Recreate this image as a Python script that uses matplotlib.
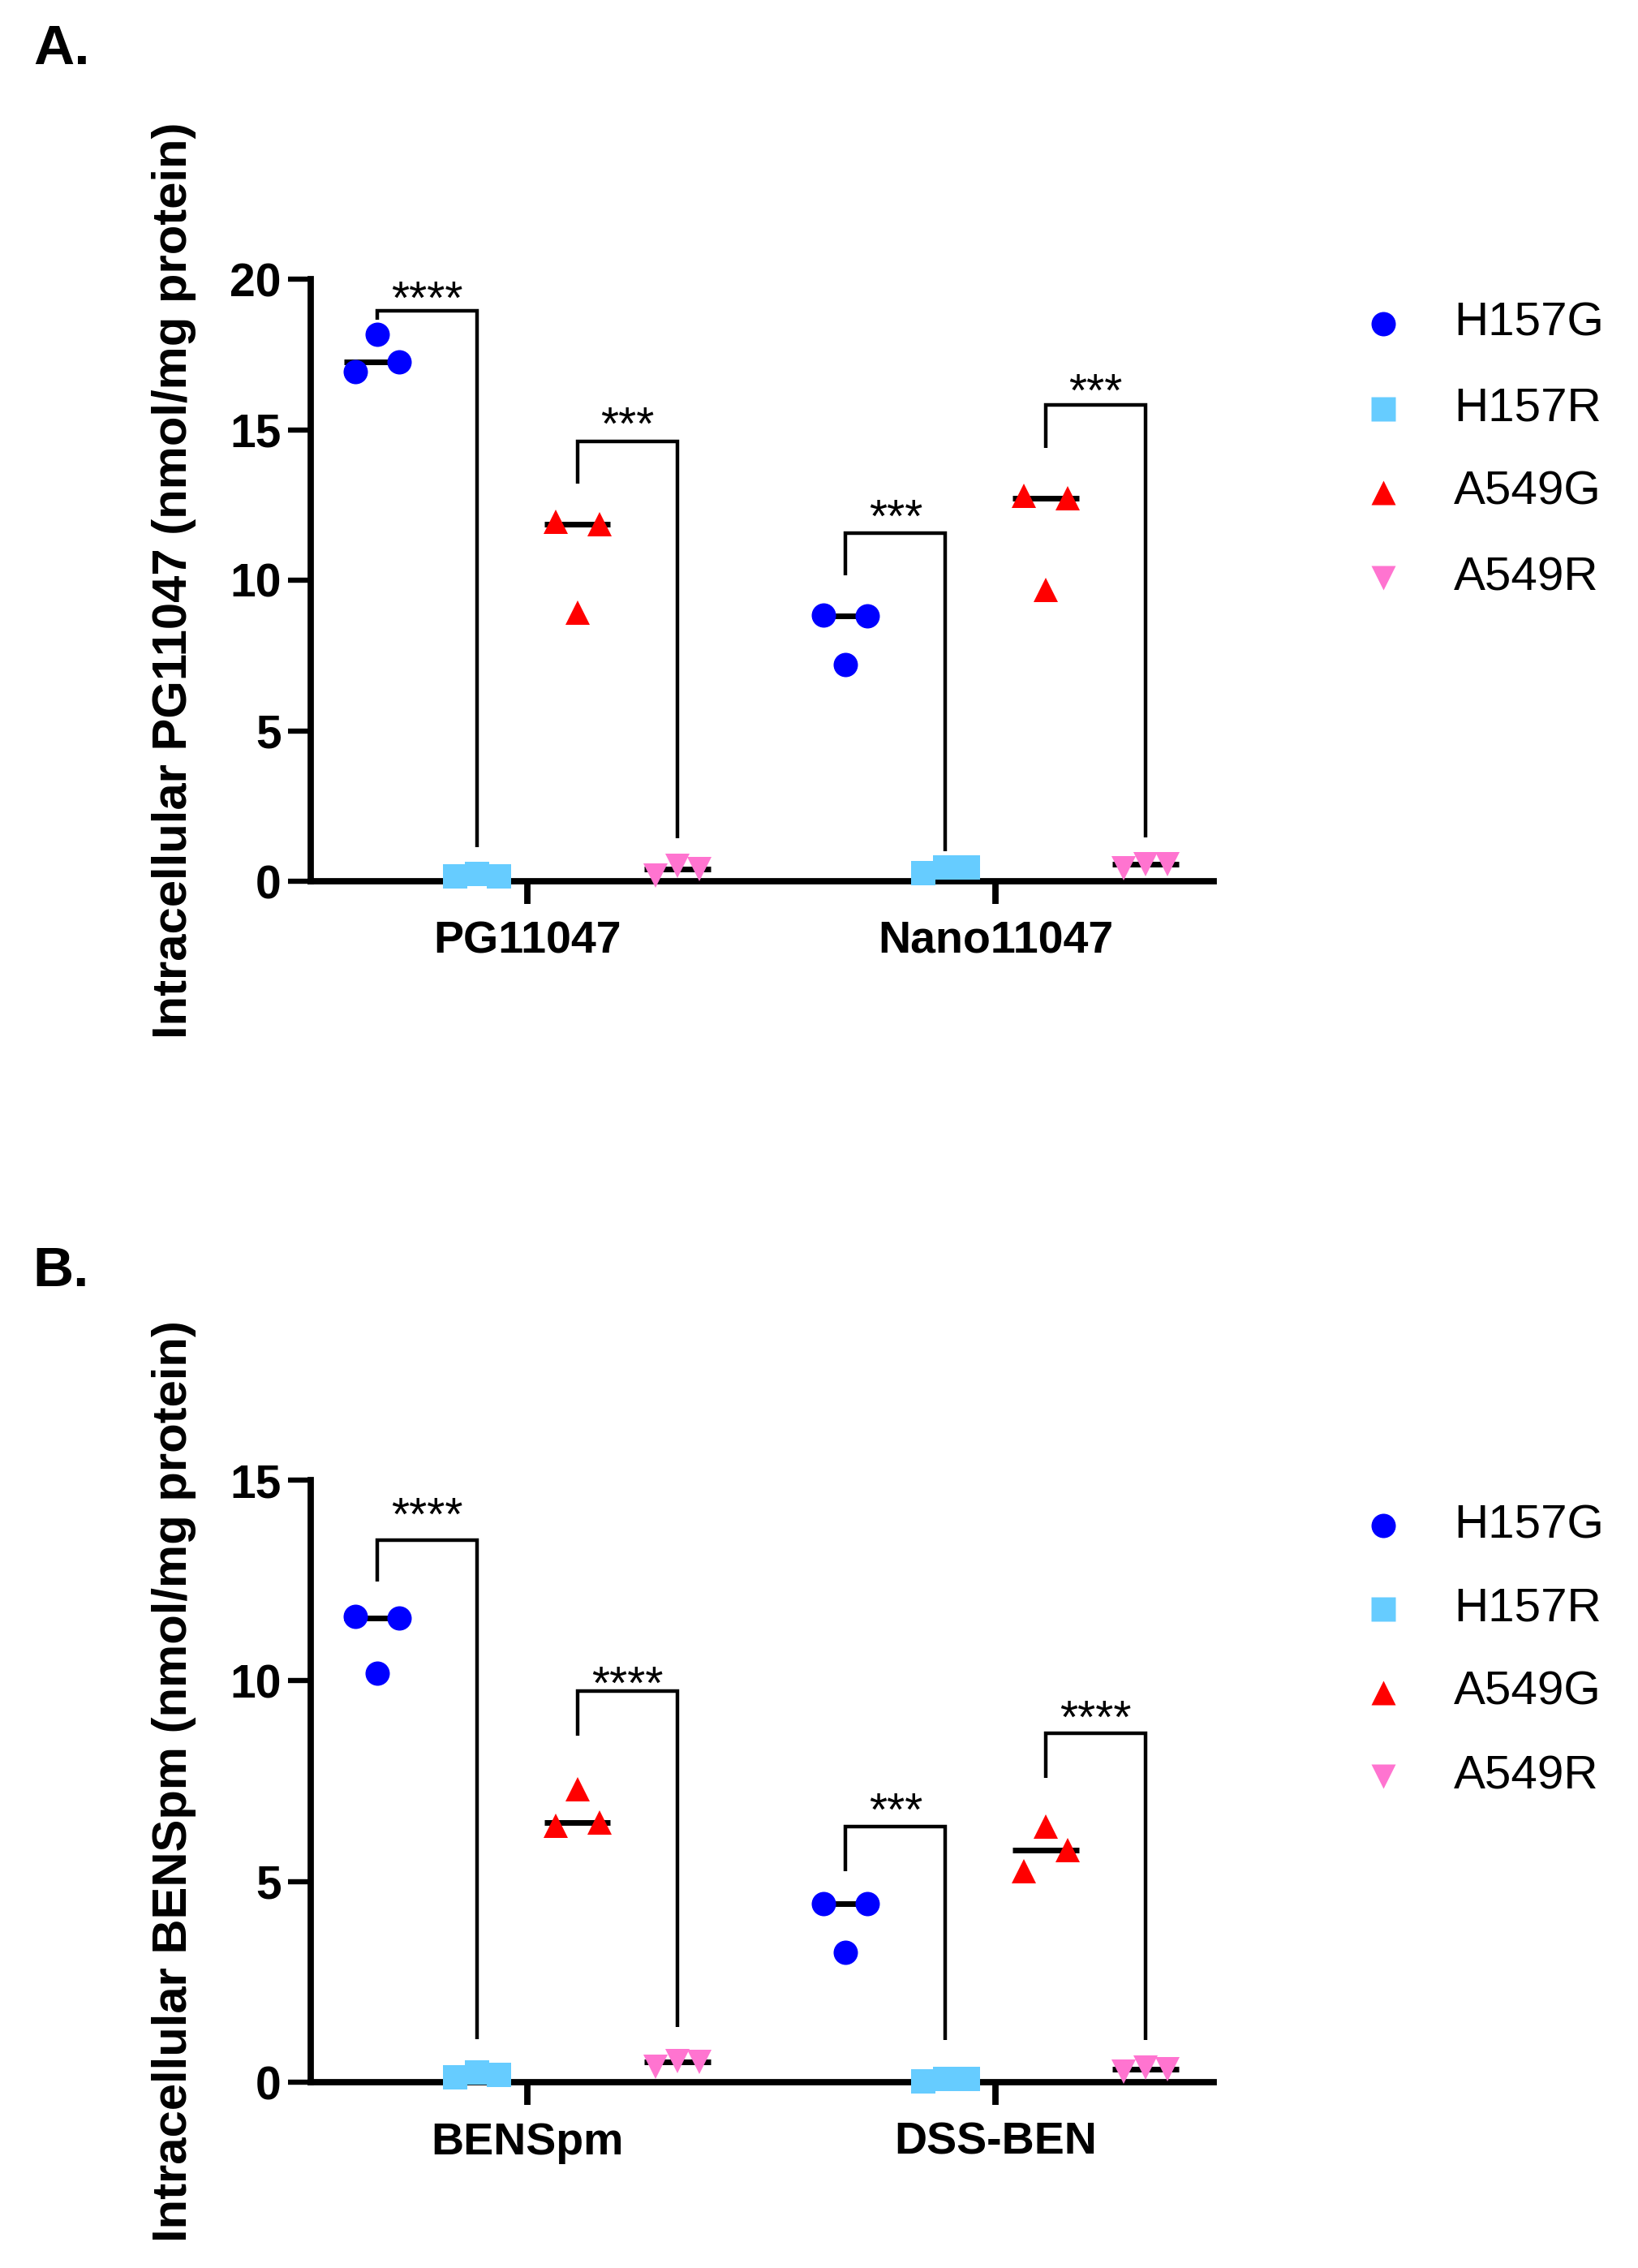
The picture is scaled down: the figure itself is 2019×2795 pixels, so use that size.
import numpy as np
import matplotlib
matplotlib.use("Agg")
import matplotlib.pyplot as plt

plt.rcParams['font.family'] = ['Liberation Sans', 'DejaVu Sans']

series = ["H157G", "H157R", "A549G", "A549R"]
colors = ["#0000FF", "#66CCFF", "#FF0000", "#FF74D0"]
markers = ["o", "s", "^", "v"]

# Panel A values (three replicates each, listed left / centre / right)
a_groups = ["PG11047", "Nano11047"]
a_PG_H157G = [16.93, 18.16, 17.25]
a_PG_H157R = [0.17, 0.23, 0.17]
a_PG_A549G = [11.95, 8.91, 11.87]
a_PG_A549R = [0.20, 0.50, 0.40]
a_Nano_H157G = [8.84, 7.20, 8.81]
a_Nano_H157R = [0.28, 0.45, 0.45]
a_Nano_A549G = [12.79, 9.69, 12.71]
a_Nano_A549R = [0.42, 0.56, 0.56]
a_ylabel = "Intracellular PG11047 (nmol/mg protein)"
a_yticks = [0, 5, 10, 15, 20]
# brackets: (group, pair, top, left leg end, right leg end, label, label centre y)
a_brackets = [(0, 0, 18.95, 18.65, 1.13, "****", 19.57),
              (0, 1, 14.62, 13.20, 1.42, "***", 15.39),
              (1, 0, 11.56, 10.17, 1.00, "***", 12.32),
              (1, 1, 15.83, 14.40, 1.46, "***", 16.49)]

# Panel B values
b_groups = ["BENSpm", "DSS-BEN"]
b_BEN_H157G = [11.60, 10.18, 11.57]
b_BEN_H157R = [0.13, 0.25, 0.18]
b_BEN_A549G = [6.39, 7.30, 6.46]
b_BEN_A549R = [0.38, 0.53, 0.51]
b_DSS_H157G = [4.45, 3.23, 4.45]
b_DSS_H157R = [0.03, 0.09, 0.09]
b_DSS_A549G = [5.26, 6.37, 5.79]
b_DSS_A549R = [0.26, 0.36, 0.32]
b_ylabel = "Intracellular BENSpm (nmol/mg protein)"
b_yticks = [0, 5, 10, 15]
b_brackets = [(0, 0, 13.51, 12.47, 1.08, "****", 14.27),
              (0, 1, 9.74, 8.63, 1.37, "****", 10.06),
              (1, 0, 6.37, 5.26, 1.05, "***", 6.92),
              (1, 1, 8.69, 7.59, 1.05, "****", 9.21)]

panels = [
    dict(letter="A.", groups=a_groups,
         data=[[a_PG_H157G, a_PG_H157R, a_PG_A549G, a_PG_A549R],
               [a_Nano_H157G, a_Nano_H157R, a_Nano_A549G, a_Nano_A549R]],
         ylabel=a_ylabel, yticks=a_yticks, brackets=a_brackets,
         rect=[383/2019, 1 - 1086/2795, 1113/2019, 742/2795],
         letter_xy=(41/2019, 1 - 79/2795),
         legend_y=[0.926, 0.785, 0.646, 0.504], star_off=-19),
    dict(letter="B.", groups=b_groups,
         data=[[b_BEN_H157G, b_BEN_H157R, b_BEN_A549G, b_BEN_A549R],
               [b_DSS_H157G, b_DSS_H157R, b_DSS_A549G, b_DSS_A549R]],
         ylabel=b_ylabel, yticks=b_yticks, brackets=b_brackets,
         rect=[383/2019, 1 - 2566/2795, 1113/2019, 742/2795],
         letter_xy=(40/2019, 1 - 1585/2795),
         legend_y=[0.924, 0.786, 0.647, 0.508], star_off=-18.5),
]

GROUP_GAP = 4.68
JIT = 0.22
HALF = 0.33
MS = 21.6

fig = plt.figure(figsize=(20.19, 27.95), dpi=100)

for p in panels:
    ax = fig.add_axes(p["rect"])
    ymax = p["yticks"][-1]
    ax.set_xlim(-0.665, 8.36)
    ax.set_ylim(0, ymax)
    for sp in ["top", "right"]:
        ax.spines[sp].set_visible(False)
    for sp in ["left", "bottom"]:
        ax.spines[sp].set_linewidth(5.6)
        ax.spines[sp].set_capstyle("projecting")
    ax.spines["left"].set_bounds(0, ymax)

    def xpos(g, s):
        return g * GROUP_GAP + s

    for g, gdata in enumerate(p["data"]):
        for s, vals in enumerate(gdata):
            xc = xpos(g, s)
            xs = [xc - JIT, xc, xc + JIT]
            med = float(np.median(vals))
            ax.plot([xc - HALF, xc + HALF], [med, med], color="black", lw=5,
                    solid_capstyle="butt", zorder=3.5, clip_on=False)
            ax.plot(xs, vals, linestyle="none", marker=markers[s], ms=MS,
                    mfc=colors[s], mec="none", mew=0, zorder=4, clip_on=False)

    for (g, pr, top, lb, rb, lab, ly) in p["brackets"]:
        x1 = xpos(g, 2 * pr)
        x2 = xpos(g, 2 * pr + 1)
        ax.plot([x1, x1, x2, x2], [lb, top, top, rb], color="black", lw=3.2,
                solid_joinstyle="miter", solid_capstyle="butt", zorder=3)
        ax.annotate(lab, xy=((x1 + x2) / 2, ly), xytext=(0, p["star_off"]),
                    textcoords="offset points", ha="center", va="baseline",
                    fontsize=41, color="black")

    ax.set_yticks(p["yticks"])
    ax.set_yticklabels([str(t) for t in p["yticks"]], fontsize=41, fontweight="bold")
    ax.set_xticks([xpos(g, 1.5) for g in range(len(p["groups"]))])
    ax.set_xticklabels(p["groups"], fontsize=40, fontweight="bold")
    ax.tick_params(axis="y", length=20, width=4.6, pad=6, direction="out")
    ax.tick_params(axis="x", length=20, width=5.6, pad=15, direction="out")

    # y label
    l, b, w, h = p["rect"]
    fig.text(214/2019, b + h / 2, p["ylabel"], rotation=90, ha="center",
             va="center", fontsize=43, fontweight="bold")

    # panel letter
    fig.text(p["letter_xy"][0], p["letter_xy"][1], p["letter"], ha="left",
             va="baseline", fontsize=50, fontweight="bold")

    # legend
    for s, name in enumerate(series):
        ax.plot([1.1878], [p["legend_y"][s]], transform=ax.transAxes,
                marker=markers[s], ms=MS, mfc=colors[s], mec="none",
                linestyle="none", clip_on=False)
        ax.text(1.266, p["legend_y"][s], name, transform=ax.transAxes,
                ha="left", va="center", fontsize=42)

fig.savefig("out.png", dpi=100)
